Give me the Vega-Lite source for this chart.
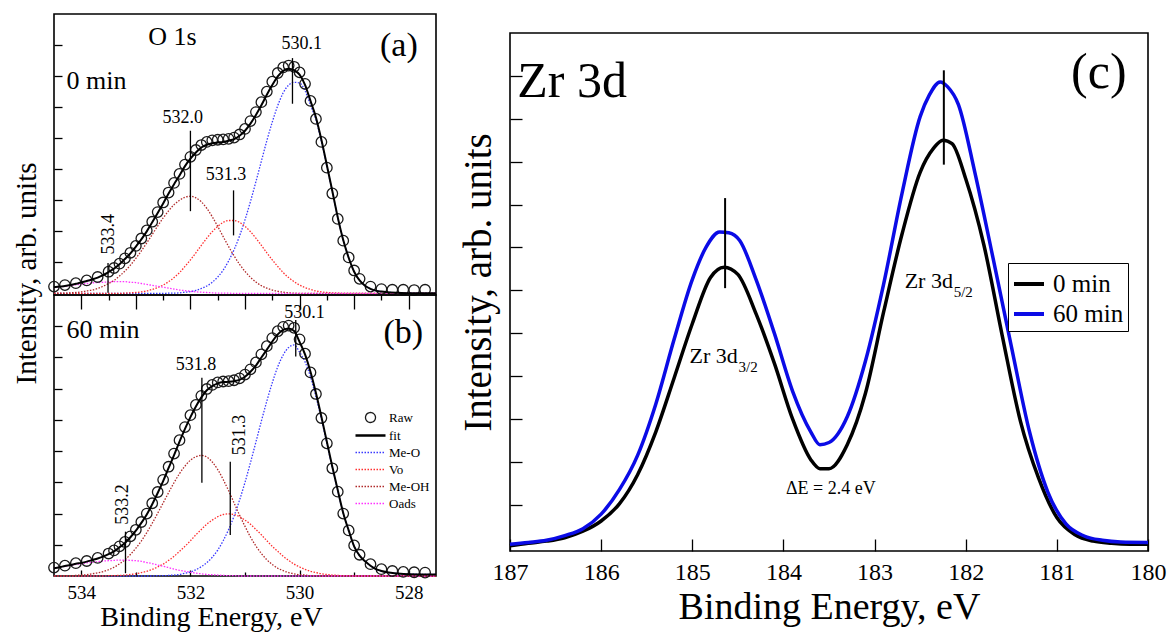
{
"$schema": "https://vega.github.io/schema/vega-lite/v6.json",
"background": "white",
"padding": {"left": 11, "top": 13, "right": 5, "bottom": 0},
"config": {
  "font": "Liberation Serif, Times New Roman, serif",
  "view": {"stroke": "black", "strokeWidth": 1.6},
  "axis": {"domain": false, "grid": false, "tickColor": "black", "tickWidth": 1.3, "labelColor": "black", "titleColor": "black", "titleFontWeight": "normal", "labelFont": "Liberation Serif, Times New Roman, serif", "titleFont": "Liberation Serif, Times New Roman, serif"},
  "legend": {"labelFont": "Liberation Serif, Times New Roman, serif", "labelColor": "black"},
  "text": {"font": "Liberation Serif, Times New Roman, serif", "color": "black"}
},
"datasets": {
  "a": [
    {"E":534.5,"fit":0.20,"Me-O":0,"Vo":0,"Me-OH":0.01,"Oads":0.19},
    {"E":534.4,"fit":0.22,"Me-O":0,"Vo":0,"Me-OH":0.01,"Oads":0.21},
    {"E":534.3,"fit":0.24,"Me-O":0,"Vo":0,"Me-OH":0.01,"Oads":0.23},
    {"E":534.2,"fit":0.27,"Me-O":0,"Vo":0,"Me-OH":0.02,"Oads":0.25},
    {"E":534.1,"fit":0.31,"Me-O":0,"Vo":0,"Me-OH":0.03,"Oads":0.28},
    {"E":534.0,"fit":0.35,"Me-O":0,"Vo":0,"Me-OH":0.05,"Oads":0.30},
    {"E":533.9,"fit":0.40,"Me-O":0,"Vo":0,"Me-OH":0.08,"Oads":0.32},
    {"E":533.8,"fit":0.45,"Me-O":0,"Vo":0,"Me-OH":0.11,"Oads":0.34},
    {"E":533.7,"fit":0.51,"Me-O":0,"Vo":0,"Me-OH":0.16,"Oads":0.35},
    {"E":533.6,"fit":0.59,"Me-O":0,"Vo":0,"Me-OH":0.23,"Oads":0.36},
    {"E":533.5,"fit":0.69,"Me-O":0,"Vo":0,"Me-OH":0.32,"Oads":0.37},
    {"E":533.4,"fit":0.80,"Me-O":0,"Vo":0,"Me-OH":0.42,"Oads":0.38},
    {"E":533.3,"fit":0.94,"Me-O":0,"Vo":0,"Me-OH":0.56,"Oads":0.38},
    {"E":533.2,"fit":1.11,"Me-O":0,"Vo":0.01,"Me-OH":0.72,"Oads":0.38},
    {"E":533.1,"fit":1.29,"Me-O":0,"Vo":0.02,"Me-OH":0.91,"Oads":0.36},
    {"E":533.0,"fit":1.51,"Me-O":0,"Vo":0.03,"Me-OH":1.13,"Oads":0.35},
    {"E":532.9,"fit":1.74,"Me-O":0,"Vo":0.05,"Me-OH":1.37,"Oads":0.32},
    {"E":532.8,"fit":2.00,"Me-O":0,"Vo":0.08,"Me-OH":1.63,"Oads":0.29},
    {"E":532.7,"fit":2.29,"Me-O":0,"Vo":0.13,"Me-OH":1.90,"Oads":0.26},
    {"E":532.6,"fit":2.59,"Me-O":0,"Vo":0.19,"Me-OH":2.17,"Oads":0.23},
    {"E":532.5,"fit":2.90,"Me-O":0,"Vo":0.27,"Me-OH":2.43,"Oads":0.20},
    {"E":532.4,"fit":3.22,"Me-O":0.01,"Vo":0.38,"Me-OH":2.66,"Oads":0.17},
    {"E":532.3,"fit":3.52,"Me-O":0.01,"Vo":0.51,"Me-OH":2.86,"Oads":0.14},
    {"E":532.2,"fit":3.80,"Me-O":0.02,"Vo":0.67,"Me-OH":3.00,"Oads":0.11},
    {"E":532.1,"fit":4.10,"Me-O":0.04,"Vo":0.87,"Me-OH":3.10,"Oads":0.09},
    {"E":532.0,"fit":4.34,"Me-O":0.06,"Vo":1.08,"Me-OH":3.13,"Oads":0.07},
    {"E":531.9,"fit":4.54,"Me-O":0.10,"Vo":1.31,"Me-OH":3.08,"Oads":0.05},
    {"E":531.8,"fit":4.70,"Me-O":0.16,"Vo":1.55,"Me-OH":2.95,"Oads":0.04},
    {"E":531.7,"fit":4.79,"Me-O":0.24,"Vo":1.78,"Me-OH":2.74,"Oads":0.03},
    {"E":531.6,"fit":4.84,"Me-O":0.36,"Vo":1.99,"Me-OH":2.47,"Oads":0.02},
    {"E":531.5,"fit":4.86,"Me-O":0.53,"Vo":2.16,"Me-OH":2.16,"Oads":0.01},
    {"E":531.4,"fit":4.88,"Me-O":0.75,"Vo":2.29,"Me-OH":1.83,"Oads":0.01},
    {"E":531.3,"fit":4.92,"Me-O":1.05,"Vo":2.35,"Me-OH":1.51,"Oads":0.01},
    {"E":531.2,"fit":4.97,"Me-O":1.41,"Vo":2.35,"Me-OH":1.21,"Oads":0},
    {"E":531.1,"fit":5.08,"Me-O":1.85,"Vo":2.29,"Me-OH":0.94,"Oads":0},
    {"E":531.0,"fit":5.24,"Me-O":2.37,"Vo":2.16,"Me-OH":0.71,"Oads":0},
    {"E":530.9,"fit":5.47,"Me-O":2.96,"Vo":1.99,"Me-OH":0.52,"Oads":0},
    {"E":530.8,"fit":5.75,"Me-O":3.60,"Vo":1.78,"Me-OH":0.37,"Oads":0},
    {"E":530.7,"fit":6.06,"Me-O":4.26,"Vo":1.55,"Me-OH":0.25,"Oads":0},
    {"E":530.6,"fit":6.40,"Me-O":4.92,"Vo":1.31,"Me-OH":0.17,"Oads":0},
    {"E":530.5,"fit":6.71,"Me-O":5.52,"Vo":1.08,"Me-OH":0.11,"Oads":0},
    {"E":530.4,"fit":6.99,"Me-O":6.05,"Vo":0.87,"Me-OH":0.07,"Oads":0},
    {"E":530.3,"fit":7.17,"Me-O":6.46,"Vo":0.67,"Me-OH":0.04,"Oads":0},
    {"E":530.2,"fit":7.24,"Me-O":6.71,"Vo":0.51,"Me-OH":0.02,"Oads":0},
    {"E":530.1,"fit":7.19,"Me-O":6.80,"Vo":0.38,"Me-OH":0.01,"Oads":0},
    {"E":530.0,"fit":7.05,"Me-O":6.78,"Vo":0.27,"Me-OH":0,"Oads":0},
    {"E":529.9,"fit":6.72,"Me-O":6.53,"Vo":0.19,"Me-OH":0,"Oads":0},
    {"E":529.8,"fit":6.20,"Me-O":6.07,"Vo":0.13,"Me-OH":0,"Oads":0},
    {"E":529.7,"fit":5.67,"Me-O":5.59,"Vo":0.08,"Me-OH":0,"Oads":0},
    {"E":529.6,"fit":4.95,"Me-O":4.90,"Vo":0.05,"Me-OH":0,"Oads":0},
    {"E":529.5,"fit":4.13,"Me-O":4.10,"Vo":0.03,"Me-OH":0,"Oads":0},
    {"E":529.4,"fit":3.30,"Me-O":3.28,"Vo":0.02,"Me-OH":0,"Oads":0},
    {"E":529.3,"fit":2.45,"Me-O":2.44,"Vo":0.01,"Me-OH":0,"Oads":0},
    {"E":529.2,"fit":1.72,"Me-O":1.72,"Vo":0,"Me-OH":0,"Oads":0},
    {"E":529.1,"fit":1.15,"Me-O":1.15,"Vo":0,"Me-OH":0,"Oads":0},
    {"E":529.0,"fit":0.70,"Me-O":0.70,"Vo":0,"Me-OH":0,"Oads":0},
    {"E":528.9,"fit":0.42,"Me-O":0.42,"Vo":0,"Me-OH":0,"Oads":0},
    {"E":528.8,"fit":0.25,"Me-O":0.25,"Vo":0,"Me-OH":0,"Oads":0},
    {"E":528.7,"fit":0.15,"Me-O":0.15,"Vo":0,"Me-OH":0,"Oads":0},
    {"E":528.6,"fit":0.09,"Me-O":0.09,"Vo":0,"Me-OH":0,"Oads":0},
    {"E":528.5,"fit":0.06,"Me-O":0.06,"Vo":0,"Me-OH":0,"Oads":0},
    {"E":528.4,"fit":0.04,"Me-O":0.04,"Vo":0,"Me-OH":0,"Oads":0},
    {"E":528.2,"fit":0.02,"Me-O":0.02,"Vo":0,"Me-OH":0,"Oads":0},
    {"E":528.0,"fit":0.01,"Me-O":0.01,"Vo":0,"Me-OH":0,"Oads":0},
    {"E":527.5,"fit":0.01,"Me-O":0.01,"Vo":0,"Me-OH":0,"Oads":0}
  ],
  "araw": [
    {"E":534.5,"raw":0.22},{"E":534.3,"raw":0.27},{"E":534.1,"raw":0.33},{"E":533.9,"raw":0.42},
    {"E":533.7,"raw":0.53},{"E":533.5,"raw":0.70},{"E":533.4,"raw":0.82},{"E":533.3,"raw":0.96},
    {"E":533.2,"raw":1.13},{"E":533.1,"raw":1.31},{"E":533.0,"raw":1.53},{"E":532.9,"raw":1.77},
    {"E":532.8,"raw":2.03},{"E":532.7,"raw":2.31},{"E":532.6,"raw":2.62},{"E":532.5,"raw":2.93},
    {"E":532.4,"raw":3.25},{"E":532.3,"raw":3.56},{"E":532.2,"raw":3.85},{"E":532.1,"raw":4.15},
    {"E":532.0,"raw":4.40},{"E":531.9,"raw":4.62},{"E":531.8,"raw":4.78},{"E":531.7,"raw":4.88},
    {"E":531.6,"raw":4.93},{"E":531.5,"raw":4.95},{"E":531.4,"raw":4.96},{"E":531.3,"raw":4.98},
    {"E":531.2,"raw":5.02},{"E":531.1,"raw":5.12},{"E":531.0,"raw":5.30},{"E":530.9,"raw":5.55},
    {"E":530.8,"raw":5.84},{"E":530.7,"raw":6.16},{"E":530.6,"raw":6.50},{"E":530.5,"raw":6.82},
    {"E":530.4,"raw":7.10},{"E":530.3,"raw":7.28},{"E":530.2,"raw":7.34},{"E":530.1,"raw":7.30},
    {"E":530.0,"raw":7.12},{"E":529.9,"raw":6.75},{"E":529.8,"raw":6.20},{"E":529.7,"raw":5.62},
    {"E":529.6,"raw":4.88},{"E":529.5,"raw":4.05},{"E":529.4,"raw":3.22},{"E":529.3,"raw":2.40},
    {"E":529.2,"raw":1.70},{"E":529.1,"raw":1.16},{"E":529.0,"raw":0.74},{"E":528.9,"raw":0.47},
    {"E":528.7,"raw":0.22},{"E":528.5,"raw":0.14},{"E":528.3,"raw":0.12},{"E":528.1,"raw":0.12},
    {"E":527.9,"raw":0.11},{"E":527.7,"raw":0.12}
  ],
  "b": [
    {"E":534.5,"fit":0.25,"Me-O":0,"Vo":0,"Me-OH":0,"Oads":0.25},
    {"E":534.4,"fit":0.28,"Me-O":0,"Vo":0,"Me-OH":0,"Oads":0.28},
    {"E":534.3,"fit":0.32,"Me-O":0,"Vo":0,"Me-OH":0.01,"Oads":0.31},
    {"E":534.2,"fit":0.35,"Me-O":0,"Vo":0,"Me-OH":0.01,"Oads":0.34},
    {"E":534.1,"fit":0.39,"Me-O":0,"Vo":0,"Me-OH":0.02,"Oads":0.37},
    {"E":534.0,"fit":0.42,"Me-O":0,"Vo":0,"Me-OH":0.03,"Oads":0.39},
    {"E":533.9,"fit":0.46,"Me-O":0,"Vo":0,"Me-OH":0.04,"Oads":0.42},
    {"E":533.8,"fit":0.51,"Me-O":0,"Vo":0,"Me-OH":0.07,"Oads":0.44},
    {"E":533.7,"fit":0.56,"Me-O":0,"Vo":0,"Me-OH":0.10,"Oads":0.46},
    {"E":533.6,"fit":0.62,"Me-O":0,"Vo":0,"Me-OH":0.14,"Oads":0.48},
    {"E":533.5,"fit":0.70,"Me-O":0,"Vo":0.01,"Me-OH":0.20,"Oads":0.49},
    {"E":533.4,"fit":0.79,"Me-O":0,"Vo":0.01,"Me-OH":0.28,"Oads":0.50},
    {"E":533.3,"fit":0.92,"Me-O":0,"Vo":0.02,"Me-OH":0.39,"Oads":0.51},
    {"E":533.2,"fit":1.06,"Me-O":0,"Vo":0.03,"Me-OH":0.52,"Oads":0.51},
    {"E":533.1,"fit":1.24,"Me-O":0,"Vo":0.05,"Me-OH":0.69,"Oads":0.50},
    {"E":533.0,"fit":1.45,"Me-O":0,"Vo":0.07,"Me-OH":0.89,"Oads":0.49},
    {"E":532.9,"fit":1.70,"Me-O":0,"Vo":0.11,"Me-OH":1.12,"Oads":0.47},
    {"E":532.8,"fit":1.97,"Me-O":0,"Vo":0.15,"Me-OH":1.39,"Oads":0.43},
    {"E":532.7,"fit":2.30,"Me-O":0,"Vo":0.21,"Me-OH":1.69,"Oads":0.40},
    {"E":532.6,"fit":2.66,"Me-O":0.01,"Vo":0.29,"Me-OH":2.01,"Oads":0.35},
    {"E":532.5,"fit":3.04,"Me-O":0.01,"Vo":0.38,"Me-OH":2.34,"Oads":0.31},
    {"E":532.4,"fit":3.46,"Me-O":0.02,"Vo":0.50,"Me-OH":2.67,"Oads":0.27},
    {"E":532.3,"fit":3.87,"Me-O":0.03,"Vo":0.63,"Me-OH":2.99,"Oads":0.22},
    {"E":532.2,"fit":4.30,"Me-O":0.05,"Vo":0.79,"Me-OH":3.28,"Oads":0.18},
    {"E":532.1,"fit":4.71,"Me-O":0.09,"Vo":0.95,"Me-OH":3.52,"Oads":0.15},
    {"E":532.0,"fit":5.09,"Me-O":0.13,"Vo":1.13,"Me-OH":3.71,"Oads":0.12},
    {"E":531.9,"fit":5.43,"Me-O":0.20,"Vo":1.32,"Me-OH":3.82,"Oads":0.09},
    {"E":531.8,"fit":5.72,"Me-O":0.30,"Vo":1.49,"Me-OH":3.86,"Oads":0.07},
    {"E":531.7,"fit":5.95,"Me-O":0.43,"Vo":1.66,"Me-OH":3.81,"Oads":0.05},
    {"E":531.6,"fit":6.08,"Me-O":0.60,"Vo":1.79,"Me-OH":3.65,"Oads":0.04},
    {"E":531.5,"fit":6.17,"Me-O":0.83,"Vo":1.90,"Me-OH":3.41,"Oads":0.03},
    {"E":531.4,"fit":6.21,"Me-O":1.13,"Vo":1.97,"Me-OH":3.09,"Oads":0.02},
    {"E":531.3,"fit":6.22,"Me-O":1.49,"Vo":1.99,"Me-OH":2.73,"Oads":0.01},
    {"E":531.2,"fit":6.24,"Me-O":1.92,"Vo":1.97,"Me-OH":2.34,"Oads":0.01},
    {"E":531.1,"fit":6.28,"Me-O":2.43,"Vo":1.90,"Me-OH":1.95,"Oads":0},
    {"E":531.0,"fit":6.38,"Me-O":3.00,"Vo":1.79,"Me-OH":1.59,"Oads":0},
    {"E":530.9,"fit":6.54,"Me-O":3.63,"Vo":1.66,"Me-OH":1.25,"Oads":0},
    {"E":530.8,"fit":6.74,"Me-O":4.29,"Vo":1.49,"Me-OH":0.96,"Oads":0},
    {"E":530.7,"fit":7.00,"Me-O":4.96,"Vo":1.32,"Me-OH":0.72,"Oads":0},
    {"E":530.6,"fit":7.25,"Me-O":5.60,"Vo":1.13,"Me-OH":0.52,"Oads":0},
    {"E":530.5,"fit":7.51,"Me-O":6.19,"Vo":0.95,"Me-OH":0.37,"Oads":0},
    {"E":530.4,"fit":7.74,"Me-O":6.70,"Vo":0.79,"Me-OH":0.25,"Oads":0},
    {"E":530.3,"fit":7.88,"Me-O":7.08,"Vo":0.63,"Me-OH":0.17,"Oads":0},
    {"E":530.2,"fit":7.93,"Me-O":7.32,"Vo":0.50,"Me-OH":0.11,"Oads":0},
    {"E":530.1,"fit":7.85,"Me-O":7.40,"Vo":0.38,"Me-OH":0.07,"Oads":0},
    {"E":530.0,"fit":7.50,"Me-O":7.17,"Vo":0.29,"Me-OH":0.04,"Oads":0},
    {"E":529.9,"fit":7.10,"Me-O":6.86,"Vo":0.21,"Me-OH":0.03,"Oads":0},
    {"E":529.8,"fit":6.54,"Me-O":6.38,"Vo":0.15,"Me-OH":0.01,"Oads":0},
    {"E":529.7,"fit":5.86,"Me-O":5.74,"Vo":0.11,"Me-OH":0.01,"Oads":0},
    {"E":529.6,"fit":5.10,"Me-O":5.03,"Vo":0.07,"Me-OH":0,"Oads":0},
    {"E":529.5,"fit":4.30,"Me-O":4.25,"Vo":0.05,"Me-OH":0,"Oads":0},
    {"E":529.4,"fit":3.50,"Me-O":3.47,"Vo":0.03,"Me-OH":0,"Oads":0},
    {"E":529.3,"fit":2.75,"Me-O":2.73,"Vo":0.02,"Me-OH":0,"Oads":0},
    {"E":529.2,"fit":2.02,"Me-O":2.01,"Vo":0.01,"Me-OH":0,"Oads":0},
    {"E":529.1,"fit":1.46,"Me-O":1.45,"Vo":0.01,"Me-OH":0,"Oads":0},
    {"E":529.0,"fit":0.95,"Me-O":0.95,"Vo":0,"Me-OH":0,"Oads":0},
    {"E":528.9,"fit":0.65,"Me-O":0.65,"Vo":0,"Me-OH":0,"Oads":0},
    {"E":528.8,"fit":0.47,"Me-O":0.47,"Vo":0,"Me-OH":0,"Oads":0},
    {"E":528.7,"fit":0.33,"Me-O":0.33,"Vo":0,"Me-OH":0,"Oads":0},
    {"E":528.6,"fit":0.22,"Me-O":0.22,"Vo":0,"Me-OH":0,"Oads":0},
    {"E":528.5,"fit":0.16,"Me-O":0.16,"Vo":0,"Me-OH":0,"Oads":0},
    {"E":528.4,"fit":0.12,"Me-O":0.12,"Vo":0,"Me-OH":0,"Oads":0},
    {"E":528.2,"fit":0.08,"Me-O":0.08,"Vo":0,"Me-OH":0,"Oads":0},
    {"E":528.0,"fit":0.06,"Me-O":0.06,"Vo":0,"Me-OH":0,"Oads":0},
    {"E":527.5,"fit":0.05,"Me-O":0.05,"Vo":0,"Me-OH":0,"Oads":0}
  ],
  "braw": [
    {"E":534.5,"raw":0.27},{"E":534.3,"raw":0.33},{"E":534.1,"raw":0.41},{"E":533.9,"raw":0.48},
    {"E":533.7,"raw":0.58},{"E":533.5,"raw":0.72},{"E":533.4,"raw":0.82},{"E":533.3,"raw":0.95},
    {"E":533.2,"raw":1.09},{"E":533.1,"raw":1.27},{"E":533.0,"raw":1.48},{"E":532.9,"raw":1.73},
    {"E":532.8,"raw":2.00},{"E":532.7,"raw":2.33},{"E":532.6,"raw":2.69},{"E":532.5,"raw":3.08},
    {"E":532.4,"raw":3.50},{"E":532.3,"raw":3.92},{"E":532.2,"raw":4.35},{"E":532.1,"raw":4.77},
    {"E":532.0,"raw":5.15},{"E":531.9,"raw":5.48},{"E":531.8,"raw":5.77},{"E":531.7,"raw":5.99},
    {"E":531.6,"raw":6.12},{"E":531.5,"raw":6.20},{"E":531.4,"raw":6.23},{"E":531.3,"raw":6.24},
    {"E":531.2,"raw":6.27},{"E":531.1,"raw":6.33},{"E":531.0,"raw":6.45},{"E":530.9,"raw":6.62},
    {"E":530.8,"raw":6.84},{"E":530.7,"raw":7.10},{"E":530.6,"raw":7.36},{"E":530.5,"raw":7.62},
    {"E":530.4,"raw":7.84},{"E":530.3,"raw":7.98},{"E":530.2,"raw":8.02},{"E":530.1,"raw":7.95},
    {"E":530.0,"raw":7.58},{"E":529.9,"raw":7.12},{"E":529.8,"raw":6.52},{"E":529.7,"raw":5.83},
    {"E":529.6,"raw":5.06},{"E":529.5,"raw":4.25},{"E":529.4,"raw":3.45},{"E":529.3,"raw":2.70},
    {"E":529.2,"raw":2.00},{"E":529.1,"raw":1.46},{"E":529.0,"raw":0.98},{"E":528.9,"raw":0.68},
    {"E":528.7,"raw":0.38},{"E":528.5,"raw":0.22},{"E":528.3,"raw":0.16},{"E":528.1,"raw":0.13},
    {"E":527.9,"raw":0.12},{"E":527.7,"raw":0.11}
  ],
  "c": [
    {"E":187.0,"series":"0 min","v":0.04},{"E":186.8,"series":"0 min","v":0.10},{"E":186.6,"series":"0 min","v":0.15},
    {"E":186.4,"series":"0 min","v":0.23},{"E":186.2,"series":"0 min","v":0.38},{"E":186.0,"series":"0 min","v":0.62},
    {"E":185.8,"series":"0 min","v":1.02},{"E":185.6,"series":"0 min","v":1.70},{"E":185.4,"series":"0 min","v":2.70},
    {"E":185.2,"series":"0 min","v":3.95},{"E":185.0,"series":"0 min","v":5.22},{"E":184.8,"series":"0 min","v":6.30},
    {"E":184.65,"series":"0 min","v":6.54},{"E":184.5,"series":"0 min","v":6.37},{"E":184.3,"series":"0 min","v":5.45},
    {"E":184.1,"series":"0 min","v":4.30},{"E":183.9,"series":"0 min","v":3.00},{"E":183.7,"series":"0 min","v":2.05},
    {"E":183.6,"series":"0 min","v":1.84},{"E":183.5,"series":"0 min","v":1.84},{"E":183.3,"series":"0 min","v":2.40},
    {"E":183.1,"series":"0 min","v":3.60},{"E":182.9,"series":"0 min","v":5.50},{"E":182.7,"series":"0 min","v":7.30},
    {"E":182.5,"series":"0 min","v":8.75},{"E":182.35,"series":"0 min","v":9.32},{"E":182.25,"series":"0 min","v":9.50},
    {"E":182.15,"series":"0 min","v":9.42},{"E":182.0,"series":"0 min","v":8.60},{"E":181.8,"series":"0 min","v":7.05},
    {"E":181.6,"series":"0 min","v":4.95},{"E":181.4,"series":"0 min","v":2.95},{"E":181.2,"series":"0 min","v":1.62},
    {"E":181.0,"series":"0 min","v":0.70},{"E":180.8,"series":"0 min","v":0.30},{"E":180.6,"series":"0 min","v":0.15},
    {"E":180.4,"series":"0 min","v":0.10},{"E":180.2,"series":"0 min","v":0.08},{"E":180.0,"series":"0 min","v":0.08},
    {"E":187.0,"series":"60 min","v":0.08},{"E":186.8,"series":"60 min","v":0.12},{"E":186.6,"series":"60 min","v":0.17},
    {"E":186.4,"series":"60 min","v":0.28},{"E":186.2,"series":"60 min","v":0.44},{"E":186.0,"series":"60 min","v":0.78},
    {"E":185.8,"series":"60 min","v":1.35},{"E":185.6,"series":"60 min","v":2.15},{"E":185.4,"series":"60 min","v":3.35},
    {"E":185.2,"series":"60 min","v":4.85},{"E":185.0,"series":"60 min","v":6.25},{"E":184.85,"series":"60 min","v":7.00},
    {"E":184.7,"series":"60 min","v":7.36},{"E":184.6,"series":"60 min","v":7.34},{"E":184.48,"series":"60 min","v":7.16},
    {"E":184.3,"series":"60 min","v":6.25},{"E":184.1,"series":"60 min","v":5.00},{"E":183.9,"series":"60 min","v":3.65},
    {"E":183.7,"series":"60 min","v":2.70},{"E":183.6,"series":"60 min","v":2.40},{"E":183.5,"series":"60 min","v":2.45},
    {"E":183.3,"series":"60 min","v":3.05},{"E":183.1,"series":"60 min","v":4.35},{"E":182.9,"series":"60 min","v":6.15},
    {"E":182.7,"series":"60 min","v":8.25},{"E":182.5,"series":"60 min","v":10.05},{"E":182.4,"series":"60 min","v":10.55},
    {"E":182.28,"series":"60 min","v":10.86},{"E":182.2,"series":"60 min","v":10.75},{"E":182.08,"series":"60 min","v":10.33},
    {"E":181.9,"series":"60 min","v":8.75},{"E":181.7,"series":"60 min","v":6.75},{"E":181.5,"series":"60 min","v":4.70},
    {"E":181.3,"series":"60 min","v":2.70},{"E":181.1,"series":"60 min","v":1.30},{"E":180.9,"series":"60 min","v":0.55},
    {"E":180.7,"series":"60 min","v":0.27},{"E":180.5,"series":"60 min","v":0.17},{"E":180.3,"series":"60 min","v":0.13},
    {"E":180.0,"series":"60 min","v":0.12}
  ]
},
"spacing": 17,
"resolve": {"scale": {"x": "independent", "y": "independent", "color": "independent"}, "legend": {"color": "independent"}},
"hconcat": [
  {
    "vconcat": [
      {
        "width": 382, "height": 281,
        "resolve": {"axis": {"x": "independent", "y": "independent"}},
        "layer": [
          {
            "data": {"name": "a"},
            "transform": [{"fold": ["Me-O", "Vo", "Me-OH", "Oads"], "as": ["comp", "val"]}],
            "mark": {"type": "line", "strokeDash": [1.5, 1.5], "strokeWidth": 1.3, "interpolate": "monotone"},
            "encoding": {
              "x": {"field": "E", "type": "quantitative", "scale": {"domain": [527.5, 534.5], "reverse": true, "nice": false, "zero": false}, "axis": null},
              "y": {"field": "val", "type": "quantitative", "scale": {"domain": [-0.05, 9], "nice": false, "zero": false},
                    "axis": {"orient": "left", "values": [1, 2, 3, 4, 5, 6, 7, 8], "tickSize": -8, "labels": false, "title": "Intensity, arb. units", "titleFontSize": 29, "titleX": -19, "titleY": 259, "titleAngle": 270, "titleBaseline": "alphabetic", "titleAlign": "center"}},
              "color": {"field": "comp", "type": "nominal", "scale": {"domain": ["Me-O", "Vo", "Me-OH", "Oads"], "range": ["#3a3aff", "#ff3030", "#b02a2a", "#ff30ff"]}, "legend": null}
            }
          },
          {
            "data": {"name": "araw"},
            "mark": {"type": "point", "shape": "circle", "filled": false, "size": 110, "strokeWidth": 1.3, "color": "#1a1a1a", "opacity": 1},
            "encoding": {
              "x": {"field": "E", "type": "quantitative", "axis": null},
              "y": {"field": "raw", "type": "quantitative", "axis": null}
            }
          },
          {
            "data": {"name": "a"},
            "mark": {"type": "line", "color": "black", "strokeWidth": 2, "interpolate": "monotone"},
            "encoding": {
              "x": {"field": "E", "type": "quantitative", "axis": null},
              "y": {"field": "fit", "type": "quantitative", "axis": null}
            }
          },
          {
            "data": {"values": [{"E": 530.13, "v1": 7.58, "v2": 6.11}, {"E": 532.0, "v1": 5.24, "v2": 2.65}, {"E": 531.21, "v1": 3.32, "v2": 1.87}, {"E": 533.51, "v1": 0.98, "v2": 0.02}]},
            "mark": {"type": "rule", "color": "black", "strokeWidth": 1.3},
            "encoding": {
              "x": {"field": "E", "type": "quantitative", "axis": null},
              "y": {"field": "v1", "type": "quantitative", "axis": null},
              "y2": {"field": "v2"}
            }
          },
          {
            "data": {"values": [{"E": 529.96, "v": 7.87, "t": "530.1"}, {"E": 532.14, "v": 5.5, "t": "532.0"}, {"E": 531.35, "v": 3.64, "t": "531.3"}]},
            "mark": {"type": "text", "fontSize": 18, "align": "center", "baseline": "alphabetic"},
            "encoding": {
              "x": {"field": "E", "type": "quantitative", "axis": null},
              "y": {"field": "v", "type": "quantitative", "axis": null},
              "text": {"field": "t"}
            }
          },
          {
            "data": {"values": [{"E": 533.4, "v": 1.91, "t": "533.4"}]},
            "mark": {"type": "text", "fontSize": 18, "align": "center", "baseline": "alphabetic", "angle": 270},
            "encoding": {
              "x": {"field": "E", "type": "quantitative", "axis": null},
              "y": {"field": "v", "type": "quantitative", "axis": null},
              "text": {"field": "t"}
            }
          },
          {
            "data": {"values": [{"E": 532.33, "v": 8.0, "t": "O 1s"}]},
            "mark": {"type": "text", "fontSize": 26, "align": "center", "baseline": "alphabetic"},
            "encoding": {
              "x": {"field": "E", "type": "quantitative", "axis": null},
              "y": {"field": "v", "type": "quantitative", "axis": null},
              "text": {"field": "t"}
            }
          },
          {
            "data": {"values": [{"E": 528.18, "v": 7.64, "t": "(a)"}]},
            "mark": {"type": "text", "fontSize": 34, "align": "center", "baseline": "alphabetic"},
            "encoding": {
              "x": {"field": "E", "type": "quantitative", "axis": null},
              "y": {"field": "v", "type": "quantitative", "axis": null},
              "text": {"field": "t"}
            }
          },
          {
            "data": {"values": [{"E": 534.27, "v": 6.59, "t": "0 min"}]},
            "mark": {"type": "text", "fontSize": 26, "align": "left", "baseline": "alphabetic"},
            "encoding": {
              "x": {"field": "E", "type": "quantitative", "axis": null},
              "y": {"field": "v", "type": "quantitative", "axis": null},
              "text": {"field": "t"}
            }
          }
        ]
      },
      {
        "width": 382, "height": 281,
        "resolve": {"axis": {"x": "independent", "y": "independent"}},
        "layer": [
          {
            "data": {"name": "b"},
            "transform": [{"fold": ["Me-O", "Vo", "Me-OH", "Oads"], "as": ["comp", "val"]}],
            "mark": {"type": "line", "strokeDash": [1.5, 1.5], "strokeWidth": 1.3, "interpolate": "monotone"},
            "encoding": {
              "x": {"field": "E", "type": "quantitative", "scale": {"domain": [527.5, 534.5], "reverse": true, "nice": false, "zero": false},
                    "axis": {"orient": "bottom", "values": [528, 529, 530, 531, 532, 533, 534], "format": "d", "labelExpr": "datum.value % 2 === 0 ? datum.label : ''", "tickSize": {"condition": {"test": "datum.value % 2 === 0", "value": -6}, "value": -4}, "labelFontSize": 19, "labelPadding": 28, "labelBaseline": "alphabetic", "labelFlush": false, "labelOverlap": false, "title": "Binding Energy, eV", "titleFontSize": 28, "titleX": 157, "titleY": 49, "titleBaseline": "alphabetic", "titleAlign": "center"}},
              "y": {"field": "val", "type": "quantitative", "scale": {"domain": [0, 9], "nice": false, "zero": false},
                    "axis": {"orient": "left", "values": [1, 2, 3, 4, 5, 6, 7, 8], "tickSize": -8, "labels": false, "title": null}},
              "color": {"field": "comp", "type": "nominal",
                        "scale": {"domain": ["Raw", "fit", "Me-O", "Vo", "Me-OH", "Oads"], "range": ["#1a1a1a", "black", "#3a3aff", "#ff3030", "#b02a2a", "#ff30ff"]},
                        "legend": {"orient": "none", "legendX": 310, "legendY": 116, "title": null, "labelFontSize": 13, "labelOffset": 12, "rowPadding": 3, "symbolType": "stroke", "symbolSize": 100, "symbolStrokeWidth": 1.3,
                                   "encode": {"symbols": {"update": {
                                     "shape": {"signal": "datum.value === 'Raw' ? 'circle' : 'stroke'"},
                                     "size": {"signal": "datum.value === 'Raw' ? 100 : 900"},
                                     "strokeDash": {"signal": "(datum.value === 'Raw' || datum.value === 'fit') ? [1, 0] : [1.5, 1.5]"},
                                     "strokeWidth": {"signal": "datum.value === 'fit' ? 2.6 : 1.3"},
                                     "fill": {"value": "transparent"}}}}}}
            }
          },
          {
            "data": {"name": "braw"},
            "mark": {"type": "point", "shape": "circle", "filled": false, "size": 110, "strokeWidth": 1.3, "opacity": 1},
            "encoding": {
              "x": {"field": "E", "type": "quantitative",
                    "axis": {"orient": "top", "values": [528, 528.5, 529, 529.5, 530, 530.5, 531, 531.5, 532, 532.5, 533, 533.5, 534], "labels": false, "title": null, "tickSize": {"condition": {"test": "datum.value % 1 === 0", "value": -14}, "value": -5}}},
              "y": {"field": "raw", "type": "quantitative", "axis": null},
              "color": {"datum": "Raw", "type": "nominal"}
            }
          },
          {
            "data": {"name": "b"},
            "mark": {"type": "line", "strokeWidth": 2, "interpolate": "monotone"},
            "encoding": {
              "x": {"field": "E", "type": "quantitative", "axis": null},
              "y": {"field": "fit", "type": "quantitative", "axis": null},
              "color": {"datum": "fit", "type": "nominal"}
            }
          },
          {
            "data": {"values": [{"E": 530.07, "v1": 8.2, "v2": 7.03}, {"E": 531.79, "v1": 6.35, "v2": 2.99}, {"E": 531.27, "v1": 3.66, "v2": 1.31}, {"E": 533.19, "v1": 1.42, "v2": 0.09}]},
            "mark": {"type": "rule", "color": "black", "strokeWidth": 1.3},
            "encoding": {
              "x": {"field": "E", "type": "quantitative", "axis": null},
              "y": {"field": "v1", "type": "quantitative", "axis": null},
              "y2": {"field": "v2"}
            }
          },
          {
            "data": {"values": [{"E": 529.91, "v": 8.27, "t": "530.1"}, {"E": 531.9, "v": 6.6, "t": "531.8"}]},
            "mark": {"type": "text", "fontSize": 18, "align": "center", "baseline": "alphabetic"},
            "encoding": {
              "x": {"field": "E", "type": "quantitative", "axis": null},
              "y": {"field": "v", "type": "quantitative", "axis": null},
              "text": {"field": "t"}
            }
          },
          {
            "data": {"values": [{"E": 531.0, "v": 4.52, "t": "531.3"}, {"E": 533.15, "v": 2.29, "t": "533.2"}]},
            "mark": {"type": "text", "fontSize": 18, "align": "center", "baseline": "alphabetic", "angle": 270},
            "encoding": {
              "x": {"field": "E", "type": "quantitative", "axis": null},
              "y": {"field": "v", "type": "quantitative", "axis": null},
              "text": {"field": "t"}
            }
          },
          {
            "data": {"values": [{"E": 528.1, "v": 7.47, "t": "(b)"}]},
            "mark": {"type": "text", "fontSize": 34, "align": "center", "baseline": "alphabetic"},
            "encoding": {
              "x": {"field": "E", "type": "quantitative", "axis": null},
              "y": {"field": "v", "type": "quantitative", "axis": null},
              "text": {"field": "t"}
            }
          },
          {
            "data": {"values": [{"E": 534.27, "v": 7.63, "t": "60 min"}]},
            "mark": {"type": "text", "fontSize": 26, "align": "left", "baseline": "alphabetic"},
            "encoding": {
              "x": {"field": "E", "type": "quantitative", "axis": null},
              "y": {"field": "v", "type": "quantitative", "axis": null},
              "text": {"field": "t"}
            }
          }
        ]
      }
    ],
    "spacing": 0,
    "bounds": "flush",
    "resolve": {"scale": {"x": "independent", "y": "independent", "color": "independent"}, "legend": {"color": "independent"}}
  },
  {
    "vconcat": [
      {
        "width": 638, "height": 19,
        "view": {"stroke": null},
        "data": {"values": [{"k": 1}]},
        "mark": {"type": "point", "opacity": 0},
        "encoding": {}
      },
      {
        "width": 638, "height": 518,
        "resolve": {"axis": {"x": "independent", "y": "independent"}},
        "layer": [
          {
            "data": {"name": "c"},
            "mark": {"type": "line", "strokeWidth": 3.5, "interpolate": "monotone"},
            "encoding": {
              "x": {"field": "E", "type": "quantitative", "scale": {"domain": [180, 187], "reverse": true, "nice": false, "zero": false},
                    "axis": {"orient": "bottom", "values": [180, 180.5, 181, 181.5, 182, 182.5, 183, 183.5, 184, 184.5, 185, 185.5, 186, 186.5, 187], "format": "d", "labelExpr": "datum.value % 1 === 0 ? datum.label : ''", "tickSize": {"condition": {"test": "datum.value % 1 === 0", "value": -12}, "value": -6}, "labelFontSize": 24, "labelPadding": 40, "labelBaseline": "alphabetic", "labelFlush": false, "labelOverlap": false, "title": "Binding Energy, eV", "titleFontSize": 38, "titleX": 319, "titleY": 67, "titleBaseline": "alphabetic", "titleAlign": "center"}},
              "y": {"field": "v", "type": "quantitative", "scale": {"domain": [-0.08, 12], "nice": false, "zero": false},
                    "axis": {"orient": "left", "values": [1, 2, 3, 4, 5, 6, 7, 8, 9, 10, 11], "tickSize": -12, "labels": false, "title": "Intensity, arb. units", "titleFontSize": 39, "titleX": -20, "titleY": 249, "titleAngle": 270, "titleBaseline": "alphabetic", "titleAlign": "center"}},
              "color": {"field": "series", "type": "nominal", "scale": {"domain": ["0 min", "60 min"], "range": ["black", "#0b0be6"]},
                        "legend": {"orient": "none", "legendX": 498, "legendY": 230, "title": null, "strokeColor": "black", "fillColor": "white", "padding": 4, "symbolType": "stroke", "symbolSize": 900, "symbolStrokeWidth": 4, "labelFontSize": 25, "labelOffset": 7, "rowPadding": -3}}
            }
          },
          {
            "data": {"values": [{"E": 184.64, "v1": 8.15, "v2": 6.05}, {"E": 182.24, "v1": 11.13, "v2": 8.93}]},
            "mark": {"type": "rule", "color": "black", "strokeWidth": 2},
            "encoding": {
              "x": {"field": "E", "type": "quantitative", "axis": null},
              "y": {"field": "v1", "type": "quantitative", "axis": null},
              "y2": {"field": "v2"}
            }
          },
          {
            "data": {"values": [{"E": 186.92, "v": 10.5, "t": "Zr 3d"}]},
            "mark": {"type": "text", "fontSize": 50, "align": "left", "baseline": "alphabetic"},
            "encoding": {
              "x": {"field": "E", "type": "quantitative", "axis": null},
              "y": {"field": "v", "type": "quantitative", "axis": null},
              "text": {"field": "t"}
            }
          },
          {
            "data": {"values": [{"E": 180.54, "v": 10.71, "t": "(c)"}]},
            "mark": {"type": "text", "fontSize": 50, "align": "center", "baseline": "alphabetic"},
            "encoding": {
              "x": {"field": "E", "type": "quantitative", "axis": null},
              "y": {"field": "v", "type": "quantitative", "axis": null},
              "text": {"field": "t"}
            }
          },
          {
            "data": {"values": [{"E": 185.03, "v": 4.31, "t": "Zr 3d"}, {"E": 182.67, "v": 6.06, "t": "Zr 3d"}]},
            "mark": {"type": "text", "fontSize": 22, "align": "left", "baseline": "alphabetic"},
            "encoding": {
              "x": {"field": "E", "type": "quantitative", "axis": null},
              "y": {"field": "v", "type": "quantitative", "axis": null},
              "text": {"field": "t"}
            }
          },
          {
            "data": {"values": [{"E": 185.03, "v": 4.31, "t": "3/2"}, {"E": 182.67, "v": 6.06, "t": "5/2"}]},
            "mark": {"type": "text", "fontSize": 15, "align": "left", "baseline": "alphabetic", "dx": 49, "dy": 9},
            "encoding": {
              "x": {"field": "E", "type": "quantitative", "axis": null},
              "y": {"field": "v", "type": "quantitative", "axis": null},
              "text": {"field": "t"}
            }
          },
          {
            "data": {"values": [{"E": 183.48, "v": 1.25, "t": "ΔE = 2.4 eV"}]},
            "mark": {"type": "text", "fontSize": 18, "align": "center", "baseline": "alphabetic"},
            "encoding": {
              "x": {"field": "E", "type": "quantitative", "axis": null},
              "y": {"field": "v", "type": "quantitative", "axis": null},
              "text": {"field": "t"}
            }
          }
        ]
      }
    ],
    "spacing": 0,
    "bounds": "flush",
    "resolve": {"scale": {"x": "independent", "y": "independent", "color": "independent"}, "legend": {"color": "independent"}}
  }
]
}
